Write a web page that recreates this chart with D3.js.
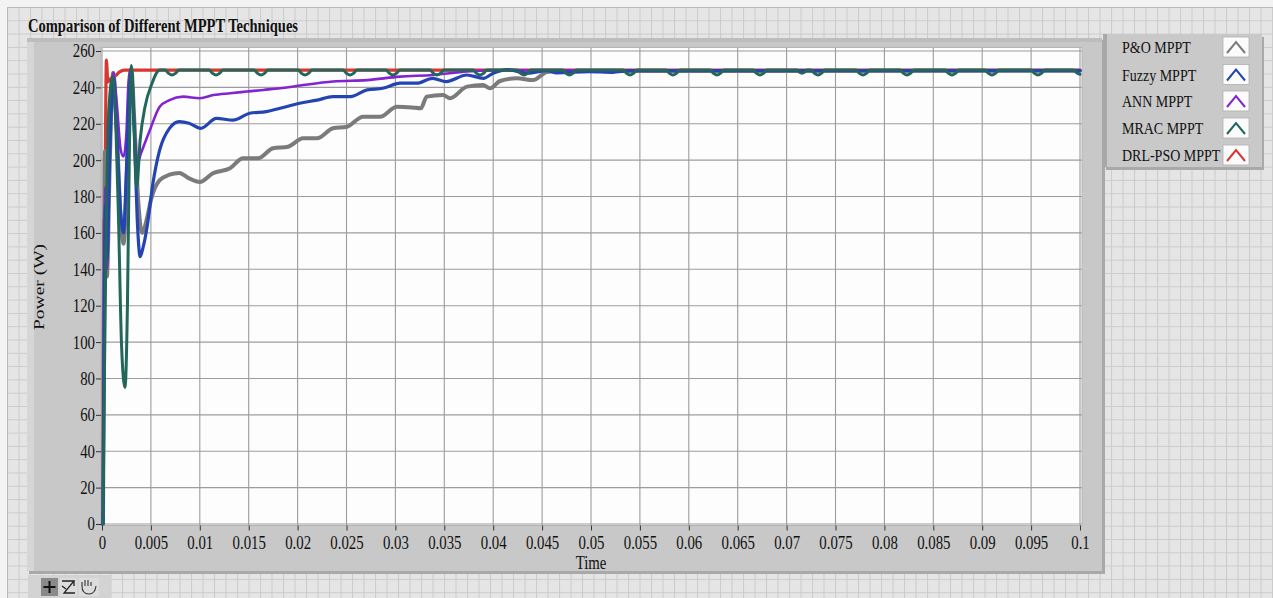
<!DOCTYPE html>
<html><head><meta charset="utf-8">
<script src="https://cdn.jsdelivr.net/npm/d3@7"></script>
<style>
html,body{margin:0;padding:0;background:#f2f2f2;}
svg{display:block;}
text{font-family:"Liberation Serif","Times New Roman",serif;fill:#111;}
</style></head>
<body>
<svg id="chart" width="1273" height="598"></svg>
<script>
// ---------------- DATA ----------------
const title = "Comparison of Different MPPT Techniques";
const seriesNames = ["P&O MPPT","Fuzzy MPPT","ANN MPPT","MRAC MPPT","DRL-PSO MPPT"];
const seriesColors = ["#7b7b7b","#2444b2","#8424d0","#22675c","#d8362f"];
const xTicks = [0,0.005,0.01,0.015,0.02,0.025,0.03,0.035,0.04,0.045,0.05,0.055,0.06,0.065,0.07,0.075,0.08,0.085,0.09,0.095,0.1];
const xTickLabels = ["0","0.005","0.01","0.015","0.02","0.025","0.03","0.035","0.04","0.045","0.05","0.055","0.06","0.065","0.07","0.075","0.08","0.085","0.09","0.095","0.1"];
const yTicks = [0,20,40,60,80,100,120,140,160,180,200,220,240,260];

// [time, power]
const poData = [[0,0],[0.0001,0],[0.00018,90],[0.0003,205],[0.0005,136],[0.0008,200],[0.00115,248],[0.0015,218],[0.0019,168],[0.0022,154],[0.0025,185],[0.0028,238],[0.003,250],[0.0033,222],[0.0037,178],[0.0041,160],[0.0046,168],[0.005,178],[0.0059,189],[0.0069,192],[0.0079,193],[0.0089,190],[0.01,188],[0.01135,192.8],[0.01309,195.5],[0.01442,201],[0.01595,201],[0.01748,206.5],[0.01902,207.4],[0.02055,212],[0.02198,212],[0.02362,217.5],[0.02505,218.4],[0.02669,223.9],[0.02843,223.9],[0.03016,229.4],[0.0317,229],[0.0326,228.5],[0.0332,234.9],[0.03487,235.8],[0.03558,234],[0.03732,240.4],[0.03896,241.3],[0.03967,239.5],[0.0407,243.5],[0.04243,245],[0.04407,244],[0.0455,248.5],[0.0467,249],[0.055,249],[0.1,249.2]];
const fuzzyData = [[0,0],[0.0001,0],[0.0002,95],[0.00035,175],[0.0005,145],[0.0008,205],[0.00115,245],[0.0015,215],[0.0019,172],[0.0022,160],[0.0025,195],[0.0028,238],[0.003,249],[0.0033,215],[0.0036,168],[0.0039,147],[0.0042,152],[0.0046,163],[0.0052,187],[0.0059,205.6],[0.0069,217.5],[0.0079,221.2],[0.0089,220.3],[0.0101,217.5],[0.0117,223],[0.0134,222],[0.0151,225.8],[0.0168,226.7],[0.0182,228.5],[0.0202,231.3],[0.022,233],[0.0236,234.9],[0.0254,234.9],[0.0271,238.6],[0.0287,239.5],[0.0305,242.3],[0.0322,242.3],[0.0338,245],[0.0352,243.2],[0.0373,246.8],[0.039,245],[0.04,247.8],[0.0414,249.8],[0.0435,247.8],[0.0455,249.2],[0.0465,248],[0.0498,248.7],[0.0522,248.3],[0.054,249.2],[0.1,249.2]];
const annData = [[0,0],[0.0001,0],[0.0002,110],[0.00035,185],[0.0005,140],[0.0008,205],[0.00115,248],[0.0015,232],[0.0019,206],[0.0022,202],[0.0025,215],[0.0027,242],[0.0029,250],[0.0032,228],[0.0036,198.3],[0.004,204],[0.0049,216.6],[0.0059,229.4],[0.0069,233],[0.0083,234.9],[0.01,234],[0.0114,235.8],[0.0131,236.8],[0.0148,237.7],[0.0165,238.6],[0.0182,239.5],[0.02025,241],[0.02362,243.2],[0.0271,244],[0.03047,245.9],[0.03384,246.8],[0.03732,248.7],[0.0407,249.4],[0.1,249.4]];
const mracData = [[0,0],[0.0001,0],[0.0002,60],[0.0004,150],[0.0007,228],[0.0011,246],[0.0014,222],[0.0017,165],[0.002,98],[0.00235,75],[0.0026,120],[0.0028,205],[0.003,252],[0.0032,232],[0.00355,185],[0.0039,211],[0.0044,229.4],[0.0051,242],[0.0059,249.5],
 [0.00646,249.5],[0.00681,247.7],[0.00716,246.8],[0.00751,247.7],[0.00786,249.5],
 [0.01096,249.5],[0.01131,247.7],[0.01166,246.8],[0.01201,247.7],[0.01236,249.5],
 [0.01556,249.5],[0.01591,247.7],[0.01626,246.8],[0.01661,247.7],[0.01696,249.5],
 [0.02006,249.5],[0.02041,247.7],[0.02076,246.8],[0.02111,247.7],[0.02146,249.5],
 [0.02466,249.5],[0.02501,247.7],[0.02536,246.8],[0.02571,247.7],[0.02606,249.5],
 [0.02905,249.5],[0.0294,247.7],[0.02975,246.8],[0.0301,247.7],[0.03045,249.5],
 [0.03355,249.5],[0.0339,247.7],[0.03425,246.8],[0.0346,247.7],[0.03495,249.5],
 [0.03795,249.5],[0.0383,247.7],[0.03865,246.8],[0.039,247.7],[0.03935,249.5],
 [0.04245,249.5],[0.0428,247.7],[0.04315,246.8],[0.0435,247.7],[0.04385,249.5],
 [0.0471,249.5],[0.04745,247.7],[0.0478,246.8],[0.04815,247.7],[0.0485,249.5],
 [0.05329,249.5],[0.05364,247.7],[0.05399,246.8],[0.05434,247.7],[0.05469,249.5],
 [0.05768,249.5],[0.05803,247.7],[0.05838,246.8],[0.05873,247.7],[0.05908,249.5],
 [0.06218,249.5],[0.06253,247.7],[0.06288,246.8],[0.06323,247.7],[0.06358,249.5],
 [0.06658,249.5],[0.06693,247.7],[0.06728,246.8],[0.06763,247.7],[0.06798,249.5],
 [0.07107,249.5],[0.07132,248.3],[0.07157,247.8],[0.07182,248.3],[0.07207,249.5],
 [0.07251,249.5],[0.07286,247.7],[0.07321,246.8],[0.07356,247.7],[0.07391,249.5],
 [0.07711,249.5],[0.07746,247.7],[0.07781,246.8],[0.07816,247.7],[0.07851,249.5],
 [0.08161,249.5],[0.08196,247.7],[0.08231,246.8],[0.08266,247.7],[0.08301,249.5],
 [0.08621,249.5],[0.08656,247.7],[0.08691,246.8],[0.08726,247.7],[0.08761,249.5],
 [0.0903,249.5],[0.09065,247.7],[0.091,246.8],[0.09135,247.7],[0.0917,249.5],
 [0.095,249.5],[0.09535,247.7],[0.0957,246.8],[0.09605,247.7],[0.0964,249.5],
 [0.0993,249.5],[0.0997,248],[0.1,247.2]];
const drlData = [[0,0],[0.0001,5],[0.00012,30],[0.00015,105],[0.0002,168],[0.00025,140],[0.0003,170],[0.00045,255],[0.0006,243],[0.0009,245],[0.0014,246.5],[0.0018,248.5],[0.0023,249.5],[0.1,249.5]];

const allSeries = [poData, fuzzyData, annData, mracData, drlData];
const lineWidths = [4, 3.2, 2.6, 3, 3.2];
const drawOrder = [4, 0, 2, 1, 3];

// ---------------- LAYOUT ----------------
const svg = d3.select("#chart");
const W = 1273, H = 598;
const SX = 0.8; // horizontal squeeze of the lettering
const plot = {left:101, right:1082, top:47.5, bottom:525.5};
const x = d3.scaleLinear().domain([0,0.1]).range([102,1080]);
const y = d3.scaleLinear().domain([0,260]).range([524,51]);

const defs = svg.append("defs");
const pat = defs.append("pattern").attr("id","bggrid").attr("patternUnits","userSpaceOnUse")
  .attr("x",7).attr("y",7).attr("width",11.5).attr("height",13.3);
pat.append("rect").attr("width",11.5).attr("height",13.3).attr("fill","#e5e5e5");
pat.append("path").attr("d","M0,0.5H11.5M0.5,0V13.3").attr("stroke","#cbcbcb").attr("stroke-width",1);
defs.append("clipPath").attr("id","plotclip").append("rect")
  .attr("x",plot.left).attr("y",plot.top).attr("width",plot.right-plot.left).attr("height",plot.bottom-plot.top);

// background
svg.append("rect").attr("width",W).attr("height",H).attr("fill","#f3f3f3");
svg.append("rect").attr("x",7).attr("y",7).attr("width",W-7).attr("height",H-7).attr("fill","url(#bggrid)");
svg.append("path").attr("d","M7.5,598V7.5H1273").attr("fill","none").attr("stroke","#b9b9b9");

function txt(g, px, py, str, size, opts={}) {
  const t = g.append("text")
    .attr("transform",`translate(${px},${py}) scale(${SX},1)`)
    .attr("font-size",size).text(str);
  if (opts.anchor) t.attr("text-anchor",opts.anchor);
  if (opts.weight) t.attr("font-weight",opts.weight);
  return t;
}

// title
svg.append("text").attr("x",28).attr("y",32).attr("font-size",18.5).attr("font-weight","bold")
  .attr("textLength",270).attr("lengthAdjust","spacingAndGlyphs").text(title);

// graph panel
svg.append("rect").attr("x",29).attr("y",40).attr("width",1076).attr("height",534).attr("fill","#a9a9a9");
svg.append("rect").attr("x",27).attr("y",38).attr("width",1075).attr("height",533).attr("fill","#c8c8c8");
svg.append("rect").attr("x",27).attr("y",38).attr("width",7).attr("height",533).attr("fill","#d6d6d6");
svg.append("rect").attr("x",27).attr("y",38).attr("width",1075).attr("height",4).attr("fill","#bdbdbd");

// plot area
svg.append("rect").attr("x",plot.left).attr("y",plot.top).attr("width",plot.right-plot.left)
  .attr("height",plot.bottom-plot.top).attr("fill","#fdfdfd");

// grid
const grid = svg.append("g");
grid.selectAll(".vg").data(xTicks).join("line")
  .attr("x1",d=>x(d)).attr("x2",d=>x(d)).attr("y1",plot.top).attr("y2",plot.bottom)
  .attr("stroke","#9c9c9c").attr("stroke-width",1.1);
grid.selectAll(".hg").data(yTicks).join("line")
  .attr("x1",plot.left).attr("x2",plot.right).attr("y1",d=>y(d)).attr("y2",d=>y(d))
  .attr("stroke","#9c9c9c").attr("stroke-width",1.1);
svg.append("rect").attr("x",plot.left).attr("y",plot.top).attr("width",plot.right-plot.left)
  .attr("height",plot.bottom-plot.top).attr("fill","none").attr("stroke","#b5b5b5").attr("stroke-width",1);

// lines
const line = d3.line().x(d=>x(d[0])).y(d=>y(d[1])).curve(d3.curveMonotoneX);
const lg = svg.append("g").attr("clip-path","url(#plotclip)");
drawOrder.forEach(i=>{
  lg.append("path").datum(allSeries[i]).attr("d",line).attr("fill","none")
    .attr("stroke",seriesColors[i]).attr("stroke-width",lineWidths[i])
    .attr("stroke-linejoin","round").attr("stroke-linecap","round");
});

// axes
const yAxis = svg.append("g").attr("transform",`translate(${plot.left},0)`)
  .call(d3.axisLeft(y).tickValues(yTicks).tickSize(5).tickPadding(2.5).tickFormat(d3.format("d")));
const xAxis = svg.append("g").attr("transform",`translate(0,${plot.bottom})`)
  .call(d3.axisBottom(x).tickValues(xTicks).tickSize(5).tickPadding(5).tickFormat((d,i)=>xTickLabels[i]));
[yAxis,xAxis].forEach(a=>{
  a.select(".domain").remove();
  a.selectAll(".tick line").attr("stroke","#333").attr("stroke-width",1);
  a.selectAll(".tick text").attr("font-family","Liberation Serif, serif").attr("font-size",18.5)
    .attr("fill","#111").attr("transform",`scale(${SX},1)`);
});

// axis titles
svg.append("text").attr("transform",`translate(44,287) rotate(-90) scale(1,${SX})`)
  .attr("text-anchor","middle").attr("font-size",19.5).text("Power (W)");
txt(svg, 591, 569, "Time", 18.5, {anchor:"middle"});

// legend
const lgd = svg.append("g");
lgd.append("rect").attr("x",1106).attr("y",37).attr("width",158).attr("height",133).attr("fill","#a9a9a9");
lgd.append("rect").attr("x",1103).attr("y",34).attr("width",159).attr("height",133).attr("fill","#c9c9c9");
lgd.append("rect").attr("x",1103).attr("y",34).attr("width",4).attr("height",133).attr("fill","#a8a8a8");
const rowY = [47,74.5,101,128,155];
seriesNames.forEach((name,i)=>{
  const cy = rowY[i];
  txt(lgd, 1122, cy+6, name, 17.5);
  lgd.append("rect").attr("x",1223).attr("y",cy-10).attr("width",26).attr("height",20)
    .attr("fill","#fbfbfb").attr("stroke","#b0b0b0").attr("stroke-width",0.8);
  lgd.append("polyline").attr("points",`${1227},${cy+6} ${1236},${cy-5} ${1245},${cy+6}`)
    .attr("fill","none").attr("stroke",seriesColors[i]).attr("stroke-width",2);
});

// toolbar
const tb = svg.append("g");
tb.append("rect").attr("x",28).attr("y",575).attr("width",83).attr("height",23).attr("fill","#d3d3d3");
tb.append("rect").attr("x",41).attr("y",578).attr("width",17).attr("height",18).attr("fill","#8a8a8a");
tb.append("path").attr("d","M43.5,587H55.5M49.5,581V593").attr("stroke","#111").attr("stroke-width",2);
tb.append("rect").attr("x",60).attr("y",578).attr("width",17).attr("height",18).attr("fill","#dcdcdc");
tb.append("path").attr("d","M62,581H74L64,593H75M62,586L66,589M74,581V586").attr("fill","none").attr("stroke","#222").attr("stroke-width",1.3);
tb.append("rect").attr("x",79).attr("y",578).attr("width",20).attr("height",18).attr("fill","#dcdcdc");
tb.append("path").attr("d","M82,586V582M85,586V580M88,586V580M91,586V582M82,586Q82,594 89,594Q95,594 96,586").attr("fill","none").attr("stroke","#333").attr("stroke-width",1.1);
</script>
</body></html>
